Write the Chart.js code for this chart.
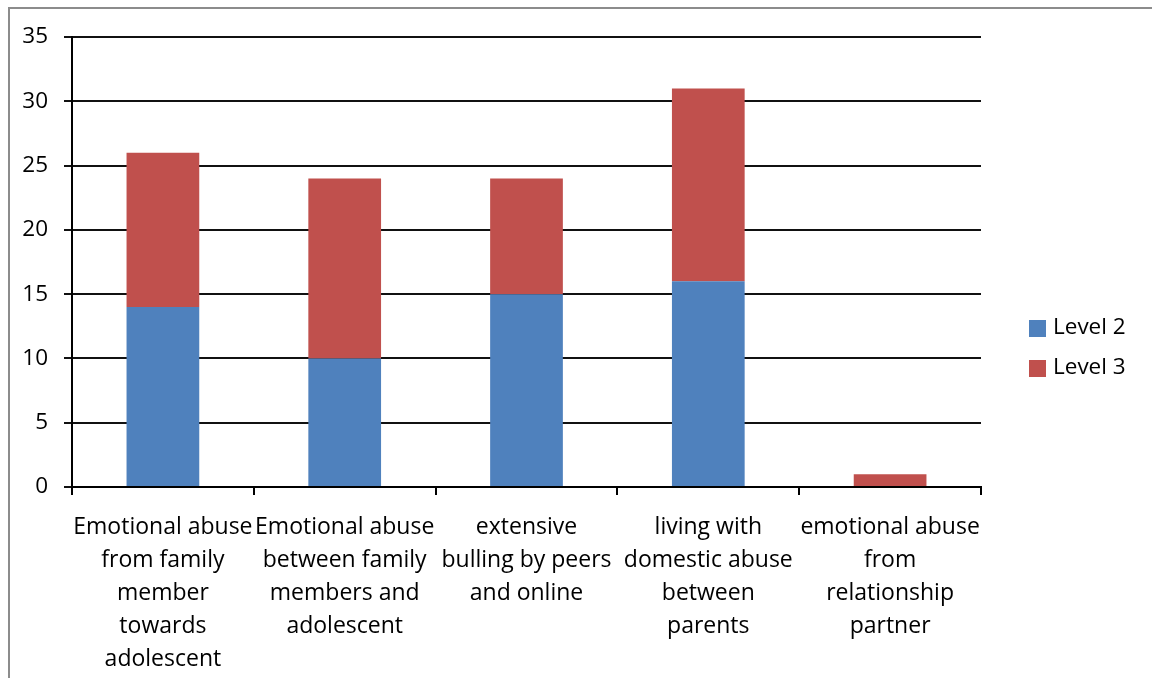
<!DOCTYPE html>
<html>
<head>
<meta charset="utf-8">
<script src="https://cdn.jsdelivr.net/npm/chart.js@4"></script>
<style>
  html, body { margin: 0; padding: 0; background: #fff; }
  #wrap { width: 1152px; height: 678px; position: relative; }
</style>
</head>
<body>
<div id="wrap"><canvas id="myChart" width="1152" height="678"></canvas></div>
<script>
const categories = [
  ['Emotional abuse', 'from family', 'member', 'towards', 'adolescent'],
  ['Emotional abuse', 'between family', 'members and', 'adolescent'],
  ['extensive', 'bulling by peers', 'and online'],
  ['living with', 'domestic abuse', 'between', 'parents'],
  ['emotional abuse', 'from', 'relationship', 'partner']
];
const level2 = [14, 10, 15, 16, 0];
const level3 = [12, 14, 9, 15, 1];
const seriesNames = ['Level 2', 'Level 3'];
const colors = ['#4F81BD', '#C0504D'];

const FONT = '"Open Sans", Lato, sans-serif';

// gray frame + legend drawn on the right, centred on the whole picture
const frameAndLegend = {
  id: 'frameAndLegend',
  beforeDraw(chart) {
    const c = chart.ctx;
    c.save();
    c.strokeStyle = '#8c8c8c';
    c.lineWidth = 2;
    c.beginPath();
    c.moveTo(9, 678);
    c.lineTo(9, 8);
    c.lineTo(1152, 8);
    c.stroke();
    c.restore();
  },
  afterDraw(chart) {
    const c = chart.ctx;
    c.save();
    c.font = '22.5px ' + FONT;
    c.textBaseline = 'middle';
    chart.data.datasets.forEach((ds, i) => {
      const y = 320 + i * 40;
      c.fillStyle = ds.backgroundColor;
      c.fillRect(1029, y, 17, 17);
      c.fillStyle = '#000';
      c.fillText(ds.label, 1053, y + 8);
    });
    c.restore();
  }
};

const ctx = document.getElementById('myChart');
const myChart = new Chart(ctx, {
  type: 'bar',
  data: {
    labels: categories,
    datasets: [
      { label: seriesNames[0], data: level2, backgroundColor: colors[0] },
      { label: seriesNames[1], data: level3, backgroundColor: colors[1] }
    ]
  },
  options: {
    responsive: false,
    animation: false,
    devicePixelRatio: 1,
    layout: { padding: { top: 37, right: 171, left: 0, bottom: 0 } },
    datasets: { bar: { categoryPercentage: 1, barPercentage: 0.4 } },
    plugins: { legend: { display: false }, tooltip: { enabled: false } },
    scales: {
      x: {
        stacked: true,
        offset: true,
        grid: { display: true, offset: true, drawOnChartArea: false, drawTicks: true, tickLength: 8, color: '#000', lineWidth: 2 },
        border: { color: '#000', width: 2 },
        ticks: {
          color: '#000', autoSkip: false, maxRotation: 0, minRotation: 0, padding: 16,
          font: { family: FONT, size: 23, lineHeight: 1.43 }
        },
        afterFit(scale) { scale.height = 191; }
      },
      y: {
        stacked: true,
        min: 0, max: 35,
        grid: { color: '#111', lineWidth: 2, tickLength: 8 },
        border: { color: '#000', width: 2 },
        ticks: {
          stepSize: 5, color: '#000', padding: 16,
          font: { family: FONT, size: 22.5 }
        },
        afterFit(scale) { scale.width = 72; }
      }
    }
  },
  plugins: [frameAndLegend]
});
</script>
</body>
</html>
